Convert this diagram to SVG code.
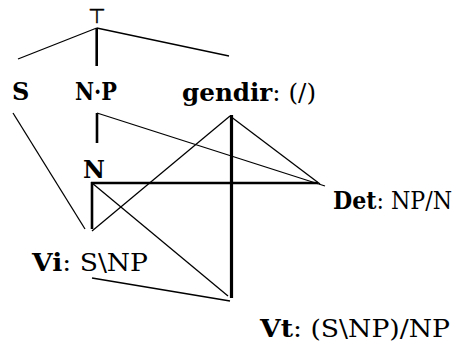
<svg xmlns="http://www.w3.org/2000/svg" width="457" height="350" viewBox="0 0 457 350">
<style>
text{font-family:"DejaVu Serif","Liberation Serif",serif;font-size:24px;fill:#000}
.b{font-weight:bold}
.sym{font-family:"DejaVu Sans",sans-serif;font-size:20px;stroke:#000;stroke-width:0.4}
.e line{stroke:#000;stroke-width:1.3;fill:none}
.e .t{stroke-width:2.6}
.e .tt{stroke-width:3.2}
</style>
<rect width="457" height="350" fill="#fff"/>
<g id="root"><text class="sym" x="96.7" y="23" text-anchor="middle">⊤</text></g>
<g id="nS"><text class="b" x="12" y="100">S</text></g>
<g id="nNP"><text class="b" x="75" y="100" textLength="42" lengthAdjust="spacingAndGlyphs">N·P</text></g>
<g id="nGendir"><text x="182" y="101" textLength="134" lengthAdjust="spacingAndGlyphs"><tspan class="b">gendir</tspan>: (/)</text></g>
<g id="nN"><text class="b" x="83" y="178">N</text></g>
<g id="nDet"><text x="333" y="209" textLength="119" lengthAdjust="spacingAndGlyphs"><tspan class="b">Det</tspan>: NP/N</text></g>
<g id="nVi"><text x="32" y="271" textLength="116" lengthAdjust="spacingAndGlyphs"><tspan class="b">Vi</tspan>: S\NP</text></g>
<g id="nVt"><text x="260" y="337" textLength="190" lengthAdjust="spacingAndGlyphs"><tspan class="b">Vt</tspan>: (S\NP)/NP</text></g>
<g id="connectors" class="e">
<line x1="96.7" y1="28" x2="18" y2="59"/>
<line x1="96.7" y1="28" x2="229" y2="56"/>
<line class="t" x1="96.7" y1="28" x2="96.7" y2="66"/>
<line x1="13" y1="113" x2="85" y2="229"/>
<line class="t" x1="97" y1="113" x2="97" y2="143"/>
<line x1="97" y1="113" x2="325" y2="186"/>
<line class="t" x1="91" y1="183" x2="318" y2="183"/>
<line class="t" x1="92" y1="182" x2="92" y2="229"/>
<line x1="92" y1="183" x2="228" y2="296"/>
<line x1="92" y1="231" x2="230" y2="116"/>
<line x1="230" y1="116" x2="320" y2="184"/>
<line class="tt" x1="231.5" y1="115" x2="231.5" y2="298"/>
<line x1="92" y1="278" x2="230" y2="301"/>
</g>
</svg>
